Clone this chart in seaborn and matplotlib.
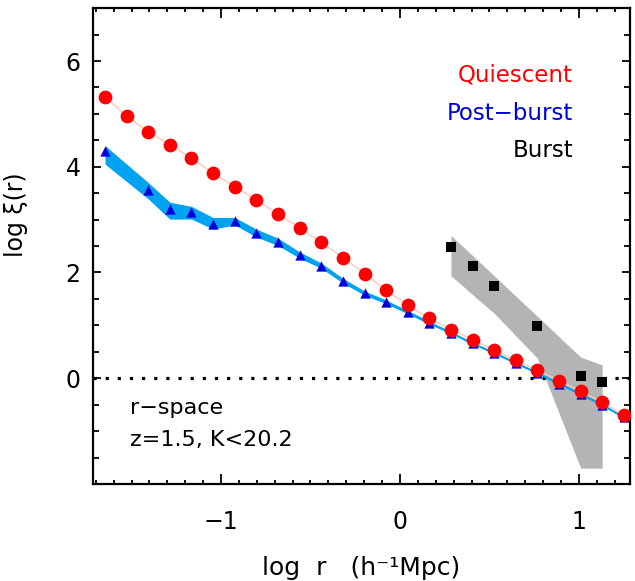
import numpy as np
import matplotlib
matplotlib.use("Agg")
import matplotlib.pyplot as plt
import seaborn as sns
from matplotlib.ticker import MultipleLocator, FixedLocator

# separation bins (log r)
log_r = [-1.648, -1.527, -1.406, -1.286, -1.165, -1.044, -0.923, -0.802,
         -0.682, -0.561, -0.440, -0.319, -0.198, -0.078, 0.043, 0.164,
         0.285, 0.406, 0.526, 0.647, 0.768, 0.889, 1.010, 1.130, 1.251]

# Quiescent
quiescent = [5.32, 4.96, 4.66, 4.42, 4.16, 3.88, 3.62, 3.37, 3.11, 2.85,
             2.57, 2.28, 1.98, 1.67, 1.38, 1.13, 0.92, 0.73, 0.53, 0.34,
             0.15, -0.05, -0.25, -0.45, -0.70]

# Post-burst (second bin empty)
post_r = [-1.648, -1.406, -1.286, -1.165, -1.044, -0.923, -0.802, -0.682,
          -0.561, -0.440, -0.319, -0.198, -0.078, 0.043, 0.164, 0.285,
          0.406, 0.526, 0.647, 0.768, 0.889, 1.010, 1.130, 1.251]
post = [4.29, 3.56, 3.20, 3.14, 2.92, 2.98, 2.74, 2.58, 2.33, 2.13, 1.84,
        1.61, 1.44, 1.25, 1.05, 0.86, 0.66, 0.48, 0.29, 0.10, -0.10, -0.30,
        -0.50, -0.74]
post_lo = [4.05, 3.39, 3.01, 3.01, 2.82, 2.90, 2.67, 2.51, 2.27, 2.08, 1.80,
           1.57, 1.41, 1.22, 1.02, 0.84, 0.64, 0.46, 0.27, 0.08, -0.12,
           -0.32, -0.52, -0.76]
post_hi = [4.40, 3.70, 3.33, 3.25, 3.04, 3.04, 2.82, 2.65, 2.39, 2.18, 1.89,
           1.65, 1.48, 1.28, 1.08, 0.88, 0.68, 0.50, 0.31, 0.12, -0.08,
           -0.28, -0.48, -0.72]

# Burst
burst_r = [0.285, 0.406, 0.526, 0.768, 1.010, 1.130]
burst = [2.48, 2.12, 1.74, 0.99, 0.04, -0.07]
burst_lo = [1.94, 1.58, 1.23, 0.38, -1.70, -1.70]
burst_hi = [2.70, 2.32, 1.94, 1.17, 0.40, 0.25]

x_ticks = [-1, 0, 1]
y_ticks = [0, 2, 4, 6]

sns.set_theme(style="ticks")
plt.rcParams['font.family'] = ['DejaVu Sans']

fig = plt.figure(figsize=(6.35, 5.81), dpi=100)
ax = fig.add_axes([0.1465, 0.167, 0.8455, 0.819])

RED = '#ff0000'
BLUE = '#0000dd'
LBLUE = '#00a2f2'

ax.axhline(0, color='black', lw=2.3, ls=(0, (1, 2.8)), zorder=1)

# burst band
ax.fill_between(burst_r, burst_lo, burst_hi, color='#b4b4b4', lw=0, zorder=2)

# post-burst band + line
ax.fill_between(post_r, post_lo, post_hi, color=LBLUE, lw=0, zorder=3)
sns.lineplot(x=post_r, y=post, color=LBLUE, lw=1.2, ax=ax, zorder=3,
             estimator=None, sort=False)
sns.scatterplot(x=post_r, y=post, marker='^', s=55, color=BLUE,
                linewidth=0, ax=ax, zorder=4)

# quiescent
sns.lineplot(x=log_r, y=quiescent, color='#ffc8b8', lw=1.0, ax=ax, zorder=5,
             estimator=None, sort=False)
sns.scatterplot(x=log_r, y=quiescent, marker='o', s=98, color=RED,
                linewidth=0, ax=ax, zorder=6)

# burst points
sns.scatterplot(x=burst_r, y=burst, marker='s', s=52, color='black',
                linewidth=0, ax=ax, zorder=7)

ax.set_xlim(-1.715, 1.285)
ax.set_ylim(-2, 7)

ax.xaxis.set_major_locator(FixedLocator(x_ticks))
ax.xaxis.set_minor_locator(MultipleLocator(0.1))
ax.yaxis.set_major_locator(FixedLocator(y_ticks))
ax.yaxis.set_minor_locator(MultipleLocator(0.5))
fmt = plt.FuncFormatter(lambda v, p: f"{v:.0f}".replace('-', '\u2212'))
ax.xaxis.set_major_formatter(fmt)
ax.yaxis.set_major_formatter(fmt)

ax.tick_params(which='both', direction='in', top=True, right=True,
               color='black', width=1.3, labelsize=17, labelcolor='black')
ax.tick_params(axis='x', which='major', length=7, pad=19)
ax.tick_params(axis='x', which='minor', length=3)
ax.tick_params(axis='y', which='major', length=6, pad=9)
ax.tick_params(axis='y', which='minor', length=4)
for sp in ax.spines.values():
    sp.set_linewidth(1.6)
    sp.set_color('black')

ax.set_xlabel('log  r   (h\u207b\u00b9Mpc)', fontsize=18, color='black')
ax.set_ylabel('log \u03be(r)', fontsize=17, color='black')
ax.xaxis.set_label_coords(0.5, -0.152)
ax.yaxis.set_label_coords(-0.121, 0.565)

ax.text(0.894, 0.859, 'Quiescent', color=RED, fontsize=16.5, ha='right',
        va='center', transform=ax.transAxes)
ax.text(0.894, 0.779, 'Post\u2212burst', color=BLUE, fontsize=16.5,
        ha='right', va='center', transform=ax.transAxes)
ax.text(0.894, 0.700, 'Burst', color='black', fontsize=16.5, ha='right',
        va='center', transform=ax.transAxes)
ax.text(0.069, 0.160, 'r\u2212space', color='black', fontsize=16, ha='left',
        va='center', transform=ax.transAxes)
ax.text(0.069, 0.092, 'z=1.5, K<20.2', color='black', fontsize=16,
        ha='left', va='center', transform=ax.transAxes)

fig.savefig('out.png', dpi=100)
